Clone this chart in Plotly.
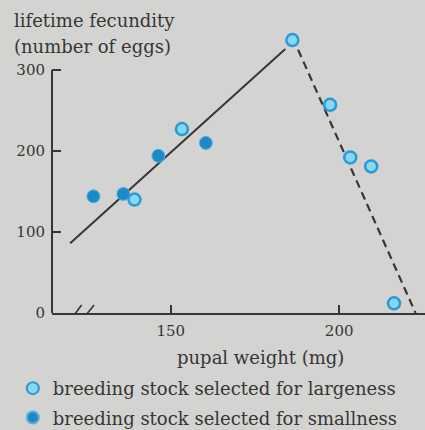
import plotly.graph_objects as go

# Data
large_x = [186.1, 197.3, 203.3, 209.5, 216.3, 153.3, 139.2]
large_y = [337, 257, 192, 181, 12, 227, 140]
small_x = [127.0, 135.9, 146.3, 160.4]
small_y = [144, 147, 194, 210]
rise_x = [120.1, 184.0]
rise_y = [86, 326]
fall_x = [187.8, 222.7]
fall_y = [325, 0]
x_ticks = [150, 200]
y_ticks = [0, 100, 200, 300]

BG = "#d3d3d1"
INK = "#363636"
FONT = "DejaVu Serif, Liberation Serif, serif"

fig = go.Figure()
fig.add_trace(go.Scatter(x=rise_x, y=rise_y, mode="lines",
                         line=dict(color=INK, width=2), showlegend=False, hoverinfo="skip"))
fig.add_trace(go.Scatter(x=fall_x, y=fall_y, mode="lines",
                         line=dict(color=INK, width=2.2, dash="8px,5px"), showlegend=False, hoverinfo="skip"))
fig.add_trace(go.Scatter(x=small_x, y=small_y, mode="markers",
                         name="breeding stock selected for smallness",
                         legendgroup="s", legendrank=2,
                         marker=dict(size=13, color="#1d8ac8", line=dict(color="#5aaede", width=1))))
fig.add_trace(go.Scatter(x=large_x, y=large_y, mode="markers",
                         name="breeding stock selected for largeness",
                         legendgroup="l", legendrank=1,
                         marker=dict(size=12, color="#88d6f0", line=dict(color="#2a9ad6", width=2.5))))

shapes = [
    # y axis line 0..300
    dict(type="line", xref="paper", yref="y", x0=0, x1=0, y0=0, y1=300,
         line=dict(color=INK, width=2)),
    # axis break marks
    dict(type="line", xref="x", yref="y", x0=120.5, x1=123.5, y0=-7, y1=9.9,
         line=dict(color=INK, width=1.6)),
    dict(type="line", xref="x", yref="y", x0=123.9, x1=127.2, y0=-7, y1=9.9,
         line=dict(color=INK, width=1.6)),
]

annotations = [
    dict(text="lifetime fecundity", xref="paper", yref="paper",
         x=-0.107, y=0.936, xanchor="left", yanchor="middle", showarrow=False,
         font=dict(family=FONT, size=18, color=INK)),
    dict(text="(number of eggs)", xref="paper", yref="paper",
         x=-0.107, y=0.853, xanchor="left", yanchor="middle", showarrow=False,
         font=dict(family=FONT, size=18, color=INK)),
    dict(text="pupal weight (mg)", xref="paper", yref="paper",
         x=0.56, y=-0.1406, xanchor="center", yanchor="middle", showarrow=False,
         font=dict(family=FONT, size=18, color=INK)),
]

fig.update_layout(
    width=425, height=430,
    margin=dict(l=52, r=0, t=0, b=117, pad=0, autoexpand=False),
    paper_bgcolor=BG, plot_bgcolor=BG,
    font=dict(family=FONT, color=INK),
    shapes=shapes, annotations=annotations,
    showlegend=True,
    legend=dict(x=-0.105, y=-0.182, xanchor="left", yanchor="top",
                traceorder="grouped", tracegroupgap=3,
                bgcolor="rgba(0,0,0,0)", font=dict(family=FONT, size=18, color=INK),
                itemsizing="constant"),
    xaxis=dict(range=[114.7, 225.5], showgrid=False, zeroline=False,
               showline=True, linecolor=INK, linewidth=2,
               tickvals=x_ticks, ticks="inside", ticklen=8, tickwidth=2, tickcolor=INK,
               ticklabelstandoff=3,
               tickfont=dict(family=FONT, size=15, color=INK)),
    yaxis=dict(range=[0, 386.4], showgrid=False, zeroline=False, showline=False,
               tickvals=y_ticks, ticks="inside", ticklen=9, tickwidth=2, tickcolor=INK,
               ticklabelstandoff=6,
               tickfont=dict(family=FONT, size=15, color=INK)),
)

fig.write_html("out.html", config={"displayModeBar": False},
               post_script="document.body.style.margin='0';document.body.style.overflow='hidden';")
